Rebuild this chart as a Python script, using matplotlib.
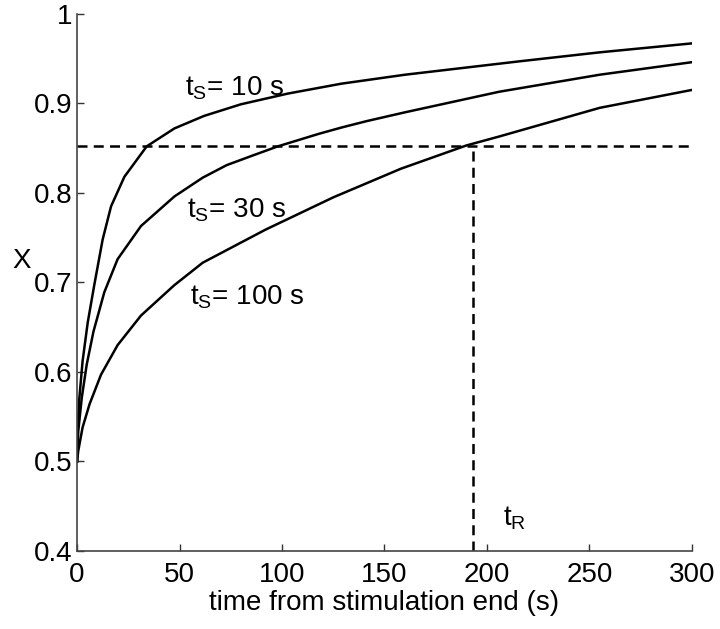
import numpy as np
import matplotlib
matplotlib.use("Agg")
import matplotlib.pyplot as plt

plt.rcParams['font.family'] = ['Liberation Sans', 'DejaVu Sans']
plt.rcParams['mathtext.fontset'] = 'custom'
plt.rcParams['mathtext.rm'] = 'Liberation Sans'
plt.rcParams['mathtext.it'] = 'Liberation Sans'

# recovery curves
t_10 = [0, 0.3, 1.1, 2.7, 5.2, 8.4, 12.5, 16.6, 23.1, 34, 47.5, 62, 80, 103, 129,
        160, 216, 255, 300]
x_10 = [0.50, 0.535, 0.57, 0.612, 0.655, 0.697, 0.748, 0.785, 0.818, 0.852, 0.872,
        0.886, 0.899, 0.911, 0.922, 0.932, 0.947, 0.957, 0.967]

t_30 = [0, 0.6, 2.3, 4.7, 8, 13.3, 19.8, 31.2, 47.5, 61.3, 73, 86, 98, 118, 129,
        141, 160, 206, 255, 300]
x_30 = [0.50, 0.534, 0.571, 0.608, 0.645, 0.689, 0.726, 0.763, 0.796, 0.817, 0.831,
        0.842, 0.852, 0.866, 0.873, 0.880, 0.890, 0.913, 0.932, 0.946]

t_100 = [0, 0.6, 2.7, 6.1, 11.7, 19.8, 31.2, 47.5, 61.3, 92, 125, 158, 190, 206,
         255, 300]
x_100 = [0.50, 0.512, 0.538, 0.564, 0.597, 0.630, 0.663, 0.697, 0.722, 0.759, 0.795,
         0.827, 0.853, 0.863, 0.895, 0.915]

x_thresh = 0.852
t_r = 193

curve_labels = ['t$_{\\mathrm{S}}$= 10 s', 't$_{\\mathrm{S}}$= 30 s', 't$_{\\mathrm{S}}$= 100 s']
label_pos = [(52.7, 0.909), (53.5, 0.772), (55, 0.675)]

fig = plt.figure(figsize=(7.2, 6.29), dpi=100)
ax = fig.add_axes([0.107, 0.124, 0.854, 0.854])

for t, x in [(t_10, x_10), (t_30, x_30), (t_100, x_100)]:
    ax.plot(t, x, color='black', lw=1.8, solid_joinstyle='round')

# threshold and recovery time
ax.axhline(x_thresh, color='black', lw=1.8, ls=(0, (4, 2.5)))
ax.plot([t_r, t_r], [0.4, x_thresh], color='black', lw=1.8, ls=(0, (4, 2.5)))

for lab, (tx, ty) in zip(curve_labels, label_pos):
    ax.text(tx, ty, lab, fontsize=20, va='baseline', ha='left')
ax.text(208, 0.429, 't$_{\\mathrm{R}}$', fontsize=20, va='baseline', ha='left')

ax.set_xlim(0, 300)
ax.set_ylim(0.4, 1.0)
ax.set_xticks(np.arange(0, 301, 50))
ax.set_yticks([0.4, 0.5, 0.6, 0.7, 0.8, 0.9, 1.0])
ax.set_yticklabels(['0.4', '0.5', '0.6', '0.7', '0.8', '0.9', '1'])
ax.tick_params(direction='in', length=5, width=1, labelsize=20, colors='#333333',
               labelcolor='black')
ax.tick_params(axis='x', pad=8)
ax.tick_params(axis='y', pad=3)
for s in ['top', 'right']:
    ax.spines[s].set_visible(False)
for s in ['left', 'bottom']:
    ax.spines[s].set_color('#444444')
    ax.spines[s].set_linewidth(1.2)

ax.set_xlabel('time from stimulation end (s)', fontsize=20, labelpad=1)
ax.set_ylabel('X', fontsize=20, rotation=0)
ax.yaxis.set_label_coords(-0.09, 0.515)

fig.savefig('out.png', dpi=100)
